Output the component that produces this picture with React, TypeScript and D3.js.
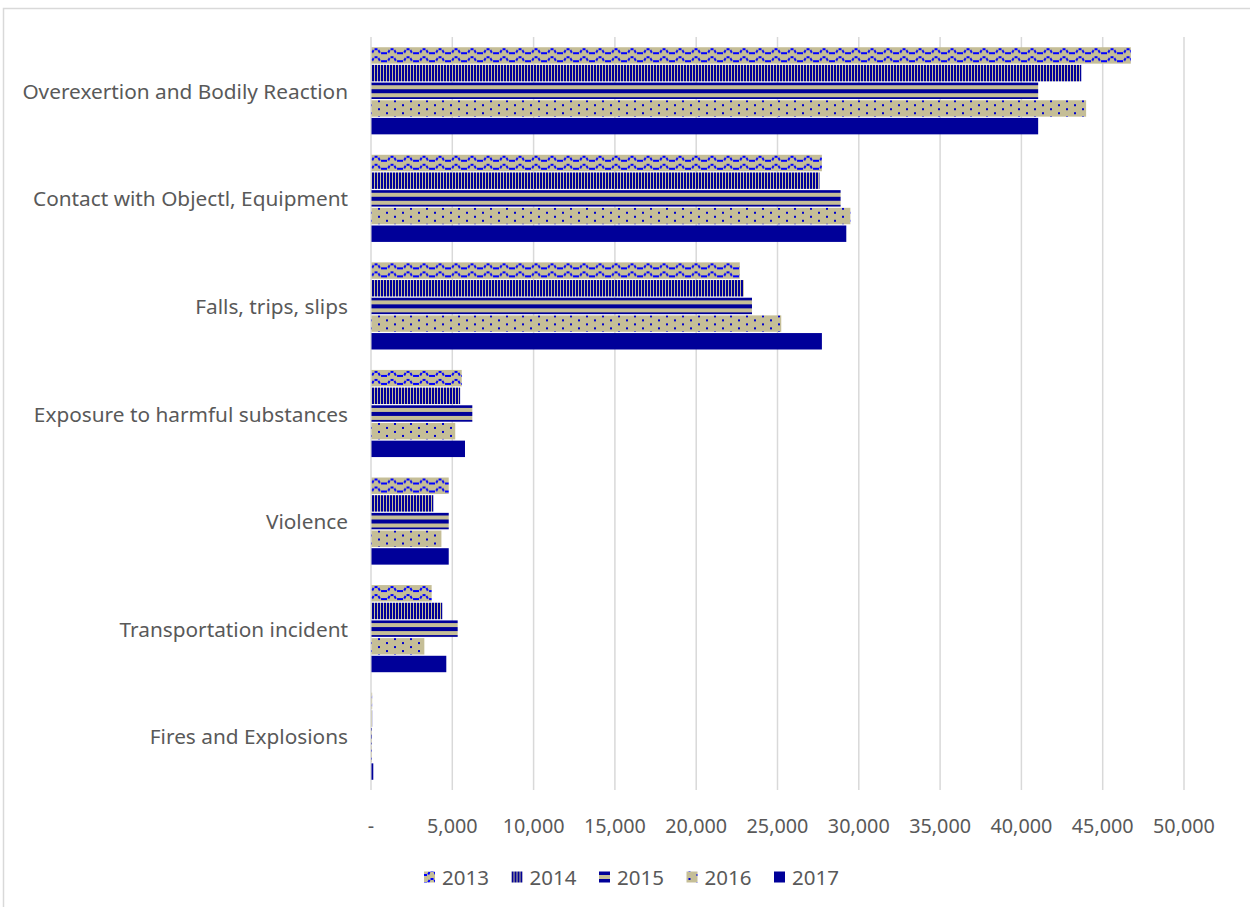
import * as d3 from 'd3';

const categories = [
  'Overexertion and Bodily Reaction',
  'Contact with Objectl, Equipment',
  'Falls, trips, slips',
  'Exposure to harmful substances',
  'Violence',
  'Transportation incident',
  'Fires and Explosions',
];

const years = ['2013', '2014', '2015', '2016', '2017'];

const values2013 = [46700, 27700, 22650, 5550, 4750, 3700, 40];
const values2014 = [43650, 27550, 22900, 5450, 3800, 4350, 40];
const values2015 = [41000, 28850, 23400, 6200, 4750, 5300, 30];
const values2016 = [43950, 29450, 25200, 5150, 4300, 3250, 30];
const values2017 = [41000, 29200, 27700, 5750, 4750, 4600, 110];

const tickValues = [0, 5000, 10000, 15000, 20000, 25000, 30000, 35000, 40000, 45000, 50000];

const series = [values2013, values2014, values2015, values2016, values2017];

const W = 1250;
const H = 907;
const TAN = '#C5BE97';
const NAVY = '#000099';
const TEXT = '#595959';
const GRID = '#D9D9D9';
const FONT = '"Noto Sans", "Open Sans", sans-serif';

export default function App() {
  const x = d3.scaleLinear().domain([0, 50000]).range([371, 1184]);
  const y = d3
    .scaleBand<string>()
    .domain(categories)
    .range([37, 790])
    .paddingInner(0.19)
    .paddingOuter(0.095);
  const yInner = d3
    .scaleBand<string>()
    .domain(years)
    .range([0, y.bandwidth()])
    .paddingInner(0.07);

  const fillFor = (i: number) => `url(#pat${years[i]})`;
  const fmt = d3.format(',');

  return (
    <div style={{ position: 'absolute', left: 0, top: 0 }}>
      <svg width={W} height={H} viewBox={`0 0 ${W} ${H}`} style={{ display: 'block' }}>
        <defs>
          {/* wave */}
          <pattern id="pat2013" patternUnits="userSpaceOnUse" width={16} height={8}>
            <rect width={16} height={8} fill={TAN} />
            <path
              d="M0,6 L4,6 L6,2 L10,2 L12,6 L16,6"
              fill="none"
              stroke="#0000FF"
              strokeWidth={2}
              strokeDasharray="3 1.5"
            />
          </pattern>
          {/* vertical stripes */}
          <pattern id="pat2014" patternUnits="userSpaceOnUse" width={3} height={8}>
            <rect width={3} height={8} fill={TAN} />
            <rect width={2} height={8} fill={NAVY} />
          </pattern>
          {/* horizontal wide stripes */}
          <pattern id="pat2015" patternUnits="userSpaceOnUse" width={8} height={8} y={2}>
            <rect width={8} height={8} fill={TAN} />
            <rect width={8} height={4} fill={NAVY} />
          </pattern>
          {/* dots */}
          <pattern id="pat2016" patternUnits="userSpaceOnUse" width={16} height={8}>
            <rect width={16} height={8} fill={TAN} />
            <rect x={2} y={1} width={2} height={2} fill="#0000CC" />
            <rect x={10} y={5} width={2} height={2} fill="#0000CC" />
          </pattern>
          <pattern id="pat2017" patternUnits="userSpaceOnUse" width={8} height={8}>
            <rect width={8} height={8} fill={NAVY} />
          </pattern>
        </defs>

        <rect x={0} y={0} width={W} height={H} fill="#fff" />
        {/* chart area border, cut off at right and bottom */}
        <rect x={3.5} y={8.5} width={W + 20} height={H + 20} fill="none" stroke={GRID} strokeWidth={1.5} />

        {/* gridlines */}
        {tickValues.map((t) => (
          <line
            key={t}
            x1={x(t)}
            x2={x(t)}
            y1={37}
            y2={790}
            stroke={GRID}
            strokeWidth={1.5}
          />
        ))}

        {/* bars */}
        {categories.map((c, ci) => (
          <g key={c} transform={`translate(0,${y(c)})`}>
            {series.map((vals, si) => (
              <rect
                key={years[si]}
                x={x(0) + 0.5}
                y={yInner(years[si])}
                width={Math.max(0, x(vals[ci]) - x(0))}
                height={yInner.bandwidth()}
                fill={fillFor(si)}
              />
            ))}
          </g>
        ))}

        {/* category labels */}
        {categories.map((c) => (
          <text
            key={c}
            x={348}
            y={(y(c) ?? 0) + y.bandwidth() / 2}
            textAnchor="end"
            dominantBaseline="central"
            fontFamily={FONT}
            fontSize={20.8}
            fill={TEXT}
          >
            {c}
          </text>
        ))}

        {/* x tick labels */}
        {tickValues.map((t) => (
          <text
            key={t}
            x={x(t)}
            y={825}
            textAnchor="middle"
            dominantBaseline="central"
            fontFamily={FONT}
            fontSize={19.8}
            fill={TEXT}
          >
            {t === 0 ? '-' : fmt(t)}
          </text>
        ))}

        {/* legend */}
        {years.map((yr, i) => {
          const lx = 424 + i * 87.5;
          return (
            <g key={yr} transform={`translate(${lx},877)`}>
              <rect x={0} y={-5.5} width={11} height={11} fill={fillFor(i)} />
              <text
                x={18}
                y={0}
                dominantBaseline="central"
                fontFamily={FONT}
                fontSize={20.5}
                fill={TEXT}
              >
                {yr}
              </text>
            </g>
          );
        })}
      </svg>
    </div>
  );
}
